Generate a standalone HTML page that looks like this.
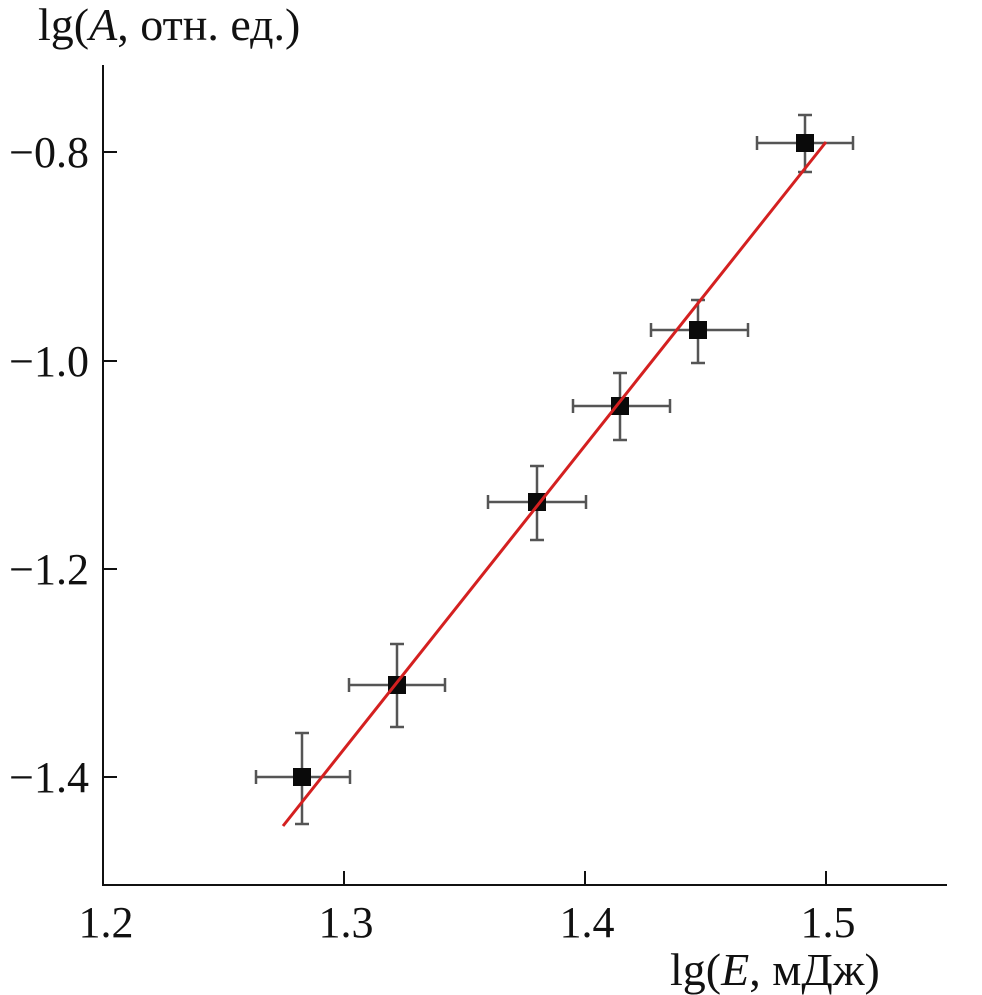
<!DOCTYPE html>
<html><head><meta charset="utf-8"><style>
html,body{margin:0;padding:0;background:#fff}
svg{display:block}
text{font-family:"Liberation Serif",serif;font-size:44px;fill:#111}
.t{font-size:46px}
</style></head><body>
<svg width="982" height="995" viewBox="0 0 982 995">
<g stroke="#111" stroke-width="2" fill="none">
<line x1="103" y1="65" x2="103" y2="886"/>
<line x1="102" y1="885" x2="947" y2="885"/>
<line x1="344" y1="885" x2="344" y2="871"/>
<line x1="585" y1="885" x2="585" y2="871"/>
<line x1="826" y1="885" x2="826" y2="871"/>
<line x1="103" y1="152" x2="117" y2="152"/>
<line x1="103" y1="361" x2="117" y2="361"/>
<line x1="103" y1="569" x2="117" y2="569"/>
<line x1="103" y1="777" x2="117" y2="777"/>
</g>
<g text-anchor="end">
<text x="89" y="167">−0.8</text>
<text x="89" y="376">−1.0</text>
<text x="89" y="584">−1.2</text>
<text x="89" y="792">−1.4</text>
</g>
<g text-anchor="middle">
<text x="106" y="937">1.2</text>
<text x="346" y="937">1.3</text>
<text x="587" y="937">1.4</text>
<text x="828" y="937">1.5</text>
</g>
<text class="t" x="38" y="40">lg(<tspan font-style="italic">A</tspan>, отн. ед.)</text>
<text class="t" x="670" y="985">lg(<tspan font-style="italic">E</tspan>, мДж)</text>
<g stroke="#555" stroke-width="2.5" fill="none">
<path d="M256 777H350M256 770v14M350 770v14M302 733V824M295 733h14M295 824h14"/>
<path d="M349 685H445M349 678v14M445 678v14M397 644V727M390 644h14M390 727h14"/>
<path d="M488 502H586M488 495v14M586 495v14M537 466V540M530 466h14M530 540h14"/>
<path d="M573 406H670M573 399v14M670 399v14M620 373V440M613 373h14M613 440h14"/>
<path d="M651 330H748M651 323v14M748 323v14M698 300V363M691 300h14M691 363h14"/>
<path d="M757 143H853M757 136v14M853 136v14M805 115V172M798 115h14M798 172h14"/>
</g>
<g fill="#0a0a0a">
<rect x="293" y="768" width="18" height="18"/>
<rect x="388" y="676" width="18" height="18"/>
<rect x="528" y="493" width="18" height="18"/>
<rect x="611" y="397" width="18" height="18"/>
<rect x="689" y="321" width="18" height="18"/>
<rect x="796" y="134" width="18" height="18"/>
</g>
<line x1="283" y1="826" x2="826" y2="142" stroke="#d42020" stroke-width="3"/>
</svg>
</body></html>
